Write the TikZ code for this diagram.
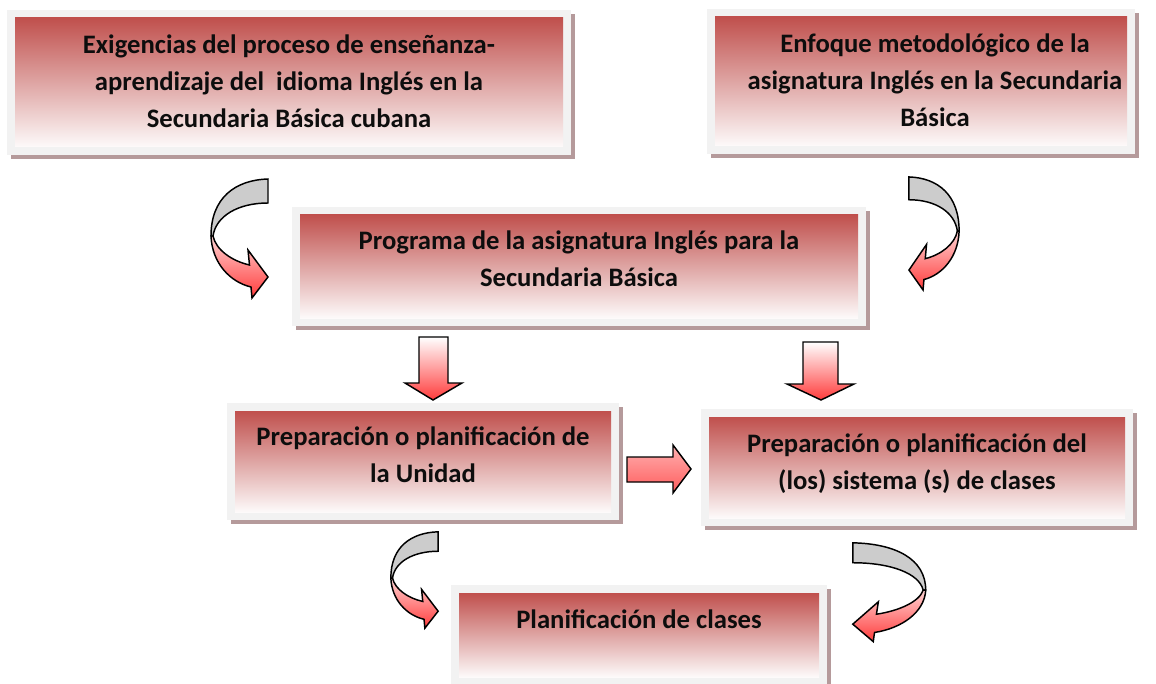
\documentclass[tikz,border=0pt]{standalone}
\usepackage{fontspec}
\setmainfont{Carlito}
\usetikzlibrary{positioning}

\definecolor{rojizo}{HTML}{C0504D}
\definecolor{rosado}{HTML}{DBA5A4}
\definecolor{blancuzco}{HTML}{FDFAFA}
\definecolor{marco}{HTML}{F2F2F2}
\definecolor{sombra}{HTML}{B59A9B}
\definecolor{grisflecha}{HTML}{CCCCCC}
\definecolor{rojoflecha}{HTML}{FF3B3B}
\definecolor{rosaflecha}{HTML}{FFD2D2}
\definecolor{rosamedio}{HTML}{FFF0F0}
\definecolor{rosafuerte}{HTML}{FFB0B0}
\definecolor{rojosuave}{HTML}{FF5C5C}

\begin{document}
\begin{tikzpicture}[
  x=0.75pt, y=-0.75pt,
  caja/.style={rectangle, inner sep=0pt, outer sep=0pt,
    preaction={draw=sombra, line width=12pt, transform canvas={xshift=3pt, yshift=-3pt}},
    preaction={draw=marco, line width=12pt},
    top color=rojizo, middle color=rosado, bottom color=blancuzco},
  texto/.style={align=center, inner sep=0pt, text=black!95,
    font=\bfseries\fontsize{20}{27.75}\selectfont},
  contorno/.style={draw=black, line width=1.1pt},
  curva/.pic={
    % reverso gris
    \draw[contorno, fill=grisflecha] (58,1) .. controls (25,2) and (1,20) .. (1,58)
      -- (3,58) .. controls (6,38) and (28,25) .. (58,25) -- cycle;
    % cuerpo rojo con punta
    \draw[contorno, top color=rosaflecha, bottom color=rojoflecha]
      (1,58) .. controls (2,85) and (20,104) .. (41,109) -- (42,120) -- (58,99)
      -- (38,72) -- (39.5,87) .. controls (22,83) and (6,72) .. (3,58) -- cycle;
  }
]

\useasboundingbox[fill=white] (0,0) rectangle (1156,684);

% Cajas superiores
\node[caja, minimum width=411pt, minimum height=96.75pt] (exig) at (289,82.5) {};
\node[texto, below=12.5pt of exig.north] (texig) {Exigencias del proceso de enseñanza-\\aprendizaje del~ idioma Inglés en la\\Secundaria Básica cubana};

\node[caja, minimum width=309pt, minimum height=96.75pt] (enfo) at (921,81.5) {};
\node[texto, below=12.5pt of enfo.north, xshift=10.5pt] (tenfo) {Enfoque metodológico de la\\asignatura Inglés en la Secundaria\\Básica};

% Programa
\node[caja, minimum width=418.5pt, minimum height=77.25pt] (prog) at (579,266.5) {};
\node[texto, below=12pt of prog.north] (tprog) {Programa de la asignatura Inglés para la\\Secundaria Básica};

% Preparacion
\node[caja, minimum width=282pt, minimum height=75.75pt] (unid) at (423,461.5) {};
\node[texto, below=11.5pt of unid.north] (tunid) {Preparación o planificación de\\la Unidad};

\node[caja, minimum width=312pt, minimum height=75.75pt] (sist) at (917,467.5) {};
\node[texto, below=12pt of sist.north] (tsist) {Preparación o planificación del\\(los) sistema (s) de clases};

% Planificacion de clases
\node[caja, minimum width=270pt, minimum height=63pt] (clas) at (639,635) {};
\node[texto, below=12.5pt of clas.north] (tclas) {Planificación de clases};

% Flechas curvas
\pic at (210,178) {curva};
\pic[xscale=-0.88, yscale=0.95] at (960,176) {curva};
\pic[xscale=0.83, yscale=0.81] at (390,531) {curva};
\pic[xscale=-1.28, yscale=0.83] at (927,542) {curva};

% Flechas de bloque
\draw[contorno, top color=white, bottom color=rojoflecha]
  (419,337) -- (448,337) -- (448,383) -- (462,383) -- (433,400) -- (405,383) -- (419,383) -- cycle;
\draw[contorno, top color=white, bottom color=rojoflecha]
  (803,342) -- (838,342) -- (838,384) -- (854,384) -- (821,400) -- (787,384) -- (803,384) -- cycle;
\draw[contorno, top color=rosafuerte, middle color=rosamedio, bottom color=rojosuave]
  (627,457) -- (673,457) -- (673,445) -- (691,469) -- (673,493) -- (673,482) -- (627,482) -- cycle;

\end{tikzpicture}
\end{document}
